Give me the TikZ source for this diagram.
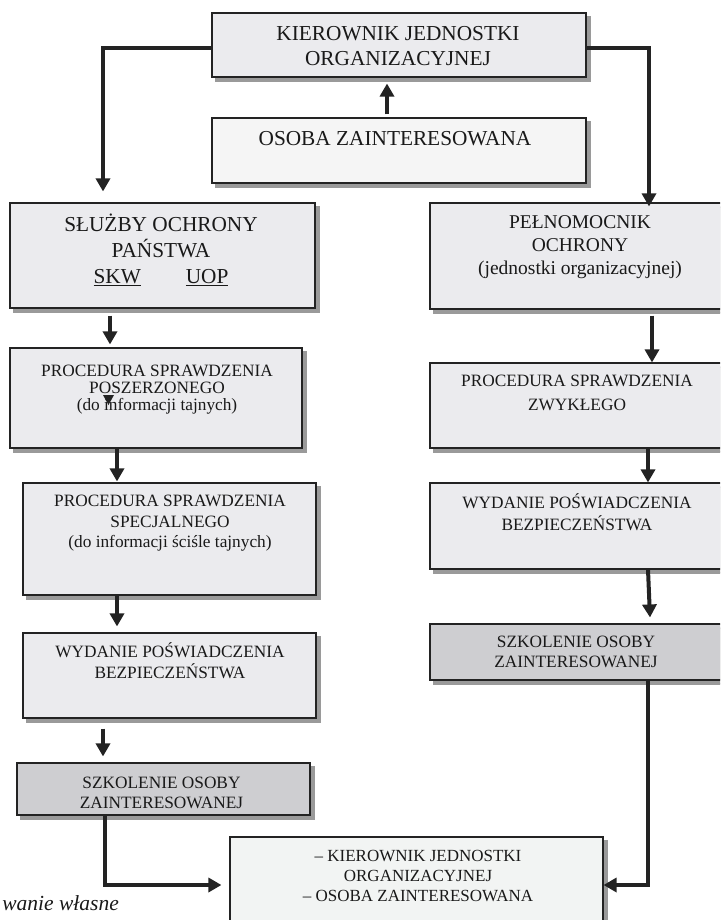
\documentclass[tikz,border=0pt]{standalone}
\usepackage{fontspec}
\setmainfont{Liberation Serif}
\usetikzlibrary{arrows.meta}

\definecolor{boxgray}{HTML}{EBEBEE}
\definecolor{boxlight}{HTML}{F5F5F5}
\definecolor{boxdark}{HTML}{CECED1}
\definecolor{boxend}{HTML}{F2F4F3}
\definecolor{shadegray}{HTML}{9A9A9A}
\definecolor{inkline}{HTML}{232323}

\newcommand{\boxlines}[1]{\begin{tabular}[t]{@{}c@{}}#1\end{tabular}}

\begin{document}
\begin{tikzpicture}[x=1pt, y=-1pt,
    box/.style={draw=inkline, line width=1.1pt, inner sep=0pt,
                preaction={fill=shadegray, draw=shadegray, transform canvas={shift={(4pt,-4pt)}}}},
    txt/.style={anchor=base, inner sep=0pt, text=black!90},
    fbig/.style={font=\fontsize{21.3}{24.5}\selectfont},
    fmid/.style={font=\fontsize{19.5}{23.2}\selectfont},
    fsmall/.style={font=\fontsize{17.3}{20.5}\selectfont},
    arr/.style={draw=inkline, line width=4pt, -{Triangle[width=14pt,length=13pt]}}]
  \clip (0,0) rectangle (720,920);

  % boxes
  \node[box, fill=boxgray,  minimum width=374pt, minimum height=64pt]  (kier)   at (399,45)    {};
  \node[box, fill=boxlight, minimum width=374pt, minimum height=65pt]  (osoba)  at (399,150.5) {};
  \node[box, fill=boxgray,  minimum width=305pt, minimum height=105pt] (sluzby) at (162.5,255.5) {};
  \node[box, fill=boxgray,  minimum width=292pt, minimum height=100pt] (posz)   at (156,398)   {};
  \node[box, fill=boxgray,  minimum width=293pt, minimum height=112pt] (spec)   at (169.5,539) {};
  \node[box, fill=boxgray,  minimum width=293pt, minimum height=85pt]  (wydL)   at (169.5,675.5) {};
  \node[box, fill=boxdark,  minimum width=293pt, minimum height=52pt]  (szkL)   at (163.5,789) {};
  \node[box, fill=boxend,   minimum width=373pt, minimum height=96pt]  (koniec) at (416.5,885) {};
  \node[box, fill=boxgray,  minimum width=300pt, minimum height=106pt] (pel)    at (580,256)   {};
  \node[box, fill=boxgray,  minimum width=300pt, minimum height=85pt]  (zwyk)   at (580,405.5) {};
  \node[box, fill=boxgray,  minimum width=300pt, minimum height=86pt]  (wydR)   at (580,526)   {};
  \node[box, fill=boxdark,  minimum width=300pt, minimum height=56pt]  (szkR)   at (580,652)   {};

  % texts
  \node[txt, fbig] (kiertxt) at (398,40.7) {\boxlines{KIEROWNIK JEDNOSTKI\\ORGANIZACYJNEJ}};
  \node[txt, fbig] (osobatxt) at (395,145.7) {OSOBA ZAINTERESOWANA};
  \node[txt, font=\fontsize{21.3}{25.8}\selectfont] (sluzbytxt) at (161,231.7)
    {\boxlines{SŁUŻBY OCHRONY\\PAŃSTWA\\\underline{SKW}\hspace{45pt}\underline{UOP}}};
  \node[txt, font=\fontsize{17.3}{16.6}\selectfont] (posztxt) at (157,376.7)
    {\boxlines{PROCEDURA SPRAWDZENIA\\POSZERZONEGO\\(do informacji tajnych)}};
  \node[txt, fsmall] (spectxt) at (170,506.7)
    {\boxlines{PROCEDURA SPRAWDZENIA\\SPECJALNEGO\\(do informacji ściśle tajnych)}};
  \node[txt, fsmall] (wydLtxt) at (170,657.3) {\boxlines{WYDANIE POŚWIADCZENIA\\BEZPIECZEŃSTWA}};
  \node[txt, fsmall] (szkLtxt) at (161.5,788.3) {\boxlines{SZKOLENIE OSOBY\\ZAINTERESOWANEJ}};
  \node[txt, font=\fontsize{17}{20}\selectfont] (koniectxt) at (418,861)
    {\boxlines{– KIEROWNIK JEDNOSTKI\\ORGANIZACYJNEJ\\– OSOBA ZAINTERESOWANA}};
  \node[txt, fmid] (peltxt) at (580,228.3)
    {\boxlines{PEŁNOMOCNIK\\OCHRONY\\(jednostki organizacyjnej)}};
  \node[txt, font=\fontsize{17.3}{23.3}\selectfont] (zwyktxt) at (577,386.7) {\boxlines{PROCEDURA SPRAWDZENIA\\ZWYKŁEGO}};
  \node[txt, font=\fontsize{17.3}{21.7}\selectfont] (wydRtxt) at (577,508.3) {\boxlines{WYDANIE POŚWIADCZENIA\\BEZPIECZEŃSTWA}};
  \node[txt, fsmall] (szkRtxt) at (576,647.3) {\boxlines{SZKOLENIE OSOBY\\ZAINTERESOWANEJ}};
  \node[anchor=base east, inner sep=0pt, text=black!90, font=\fontsize{21.5}{25}\selectfont\itshape]
    (zrodlo) at (119,910) {wanie własne};

  % connectors
  \draw[arr, shorten >=6pt] ([xshift=-12pt,yshift=3pt]osoba.north) -- ([xshift=-12pt]osoba.north |- kier.south);
  \draw[arr, shorten >=11pt] ([yshift=-3pt]kier.west) -| ([xshift=-59.5pt]sluzby.north);
  \draw[arr, shorten >=-4pt] ([yshift=-3pt]kier.east) -| ([xshift=69pt]pel.north);
  \draw[arr] ([xshift=-52.5pt,yshift=-7pt]sluzby.south) -- ([xshift=-46pt,yshift=3pt]posz.north);
  \draw[arr] ([xshift=-39pt]posz.south) -- ([xshift=-52.5pt,yshift=1pt]spec.north);
  \draw[arr] ([xshift=-52.5pt]spec.south) -- ([xshift=-52.5pt,yshift=6pt]wydL.north);
  \draw[arr] ([xshift=-66.5pt,yshift=-10pt]wydL.south) -- ([xshift=-60.5pt,yshift=6pt]szkL.north);
  \draw[arr, shorten >=8pt] ([xshift=-58.5pt]szkL.south) |- (koniec.west);
  \draw[arr] ([xshift=72pt,yshift=-6pt]pel.south) -- ([xshift=72pt]zwyk.north);
  \draw[arr] ([xshift=68pt]zwyk.south) -- ([xshift=68pt]wydR.north);
  \draw[arr] ([xshift=68pt]wydR.south) -- ([xshift=70pt,yshift=6pt]szkR.north);
  \draw[arr] ([xshift=68pt]szkR.south) |- (koniec.east);
  \fill[inkline] (103,395) -- (114,395) -- (108.5,405) -- cycle;
\end{tikzpicture}
\end{document}
